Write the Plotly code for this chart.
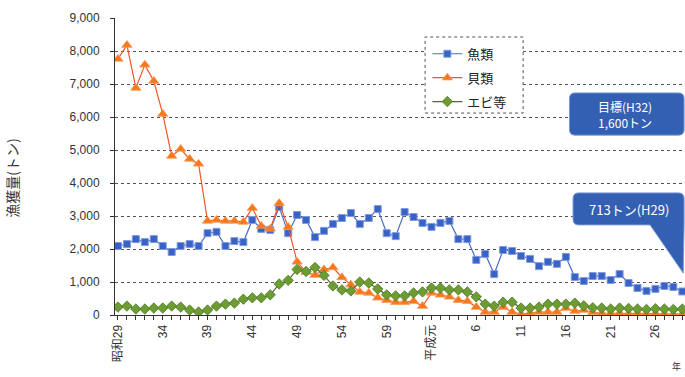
import plotly.graph_objects as go

# 漁獲量の推移（昭和29年〜平成29年）
years = list(range(1954, 2018))

fish = [2090, 2150, 2300, 2210, 2300, 2090, 1910, 2090, 2150, 2090,
        2480, 2520, 2090, 2240, 2210, 2880, 2610, 2580, 3270, 2480,
        3030, 2880, 2360, 2550, 2760, 2940, 3090, 2760, 2940, 3210,
        2480, 2390, 3120, 2970, 2790, 2670, 2790, 2850, 2300, 2300,
        1670, 1850, 1240, 1970, 1940, 1790, 1700, 1480, 1610, 1550,
        1760, 1150, 1030, 1180, 1180, 1060, 1240, 970, 820, 730,
        790, 880, 850, 713]

shellfish = [7760, 8180, 6880, 7580, 7090, 6090, 4820, 5030, 4730, 4580,
             2850, 2880, 2850, 2850, 2820, 3240, 2700, 2610, 3390, 2670,
             1610, 1300, 1210, 1380, 1440, 1140, 920, 700, 670, 520,
             450, 390, 390, 420, 270, 670, 610, 550, 450, 420,
             240, 90, 90, 240, 90, 30, 60, 90, 90, 90,
             210, 120, 150, 80, 60, 50, 60, 40, 50, 40,
             50, 40, 30, 40]

shrimp = [240, 270, 180, 180, 210, 210, 270, 240, 150, 90,
          150, 270, 330, 360, 480, 520, 520, 610, 940, 1050,
          1380, 1320, 1440, 1200, 880, 760, 730, 1000, 970, 790,
          610, 580, 580, 670, 700, 820, 820, 760, 760, 700,
          550, 330, 270, 390, 390, 210, 210, 240, 330, 330,
          330, 360, 280, 220, 210, 180, 210, 200, 180, 170,
          190, 180, 170, 180]

# 年号ラベル（5年おき）
era_labels = {1954: "昭和29", 1959: "34", 1964: "39", 1969: "44", 1974: "49",
              1979: "54", 1984: "59", 1989: "平成元", 1994: "6", 1999: "11",
              2004: "16", 2009: "21", 2014: "26"}
tick_text = [era_labels.get(y, "") for y in years]

series_names = ["魚類", "貝類", "エビ等"]

target_text = "目標(H32)<br>1,600トン"
latest_text = "713トン(H29)"

JP = "Noto Sans CJK JP"
NUM = "Liberation Sans, Noto Sans CJK JP"
BOX_BLUE = "#3460b4"

fig = go.Figure()

fig.add_trace(go.Scatter(
    x=years, y=fish, name=series_names[0], mode="lines+markers",
    line=dict(color="#4a6cc4", width=1.2),
    marker=dict(symbol="square", size=7, color="#3a62c6",
                line=dict(color="#7f9ce0", width=1)),
    legendgroup="a"))
fig.add_trace(go.Scatter(
    x=years, y=shellfish, name=series_names[1], mode="lines+markers",
    line=dict(color="#f0562a", width=1.2),
    marker=dict(symbol="triangle-up", size=9, color="#f5781e",
                line=dict(color="#f89a50", width=0.8)),
    legendgroup="b"))
fig.add_trace(go.Scatter(
    x=years, y=shrimp, name=series_names[2], mode="lines+markers",
    line=dict(color="#56683a", width=1.2),
    marker=dict(symbol="diamond", size=8, color="#6c9c32",
                line=dict(color="#4d7a22", width=0.8)),
    legendgroup="c"))


def rounded_box(x0, x1, y0, y1, rx, ry):
    return (f"M {x0+rx},{y1} L {x1-rx},{y1} Q {x1},{y1} {x1},{y1-ry} "
            f"L {x1},{y0+ry} Q {x1},{y0} {x1-rx},{y0} L {x0+rx},{y0} "
            f"Q {x0},{y0} {x0},{y0+ry} L {x0},{y1-ry} Q {x0},{y1} {x0+rx},{y1} Z")


def callout_box(x0, x1, y0, y1, rx, ry, base_left, tip_x, tip_y):
    return (f"M {x0+rx},{y1} L {x1-rx},{y1} Q {x1},{y1} {x1},{y1-ry} "
            f"L {x1},{y0} L {tip_x},{tip_y} L {base_left},{y0} "
            f"L {x0+rx},{y0} Q {x0},{y0} {x0},{y0+ry} "
            f"L {x0},{y1-ry} Q {x0},{y1} {x0+rx},{y1} Z")


last_year = years[-1]
last_val = fish[-1]

shapes = [
    # 目標の吹き出し
    dict(type="path", xref="x", yref="y", layer="above",
         path=rounded_box(2004.4, 2017.2, 5450, 6730, 0.6, 180),
         fillcolor=BOX_BLUE, line=dict(color="#7c9ad6", width=1)),
    # 最新値の吹き出し（最終年の点を指す）
    dict(type="path", xref="x", yref="y", layer="above",
         path=callout_box(2004.8, last_year + 0.2, 2730, 3700, 0.6, 180,
                          last_year - 3.6, last_year + 0.1, last_val + 560),
         fillcolor=BOX_BLUE, line=dict(color="#7c9ad6", width=1)),
    # 凡例の点線枠
    dict(type="rect", xref="paper", yref="paper", layer="above",
         x0=0.544, x1=0.716, y0=0.680, y1=0.936,
         fillcolor="white", line=dict(color="#555555", width=1, dash="dot")),
]

annotations = [
    dict(x=2010.6, y=6090, xref="x", yref="y", text=target_text,
         showarrow=False, align="center",
         font=dict(family=JP, size=12, color="white")),
    dict(x=2011.1, y=3190, xref="x", yref="y", text=latest_text,
         showarrow=False, font=dict(family=JP, size=13, color="white")),
    dict(x=-0.18, y=0.46, xref="paper", yref="paper", text="漁獲量(トン)",
         textangle=-90, showarrow=False, xanchor="center", yanchor="middle",
         font=dict(family=JP, size=14, color="#333333")),
    dict(x=0.997, y=-0.175, xref="paper", yref="paper", text="年",
         xanchor="right", yanchor="middle", showarrow=False,
         font=dict(family=JP, size=9, color="#333333")),
]

fig.update_layout(
    width=685, height=377,
    margin=dict(l=115, r=0, t=18, b=62),
    paper_bgcolor="white", plot_bgcolor="white",
    shapes=shapes, annotations=annotations,
    legend=dict(x=0.548, y=0.93, xanchor="left", yanchor="top",
                bgcolor="rgba(0,0,0,0)", borderwidth=0,
                tracegroupgap=4,
                font=dict(family=JP, size=13, color="#222222")),
    showlegend=True,
)

fig.update_xaxes(
    range=[1953.67, 2017.3],
    tickmode="array", tickvals=years, ticktext=tick_text,
    tickangle=-90, ticks="outside", ticklen=4, tickcolor="#333333",
    showline=True, linecolor="#333333", linewidth=1,
    showgrid=False, zeroline=False,
    tickfont=dict(family=NUM, size=12, color="#333333"),
)

fig.update_yaxes(
    range=[0, 9000], dtick=1000, tickformat=",",
    ticks="outside", ticklen=4, tickcolor="#333333",
    ticklabelstandoff=8,
    showline=True, linecolor="#333333", linewidth=1,
    showgrid=True, gridcolor="#555555", gridwidth=1, griddash="dot",
    zeroline=False,
    tickfont=dict(family=NUM, size=12, color="#333333"),
)

fig.write_html("out.html")
